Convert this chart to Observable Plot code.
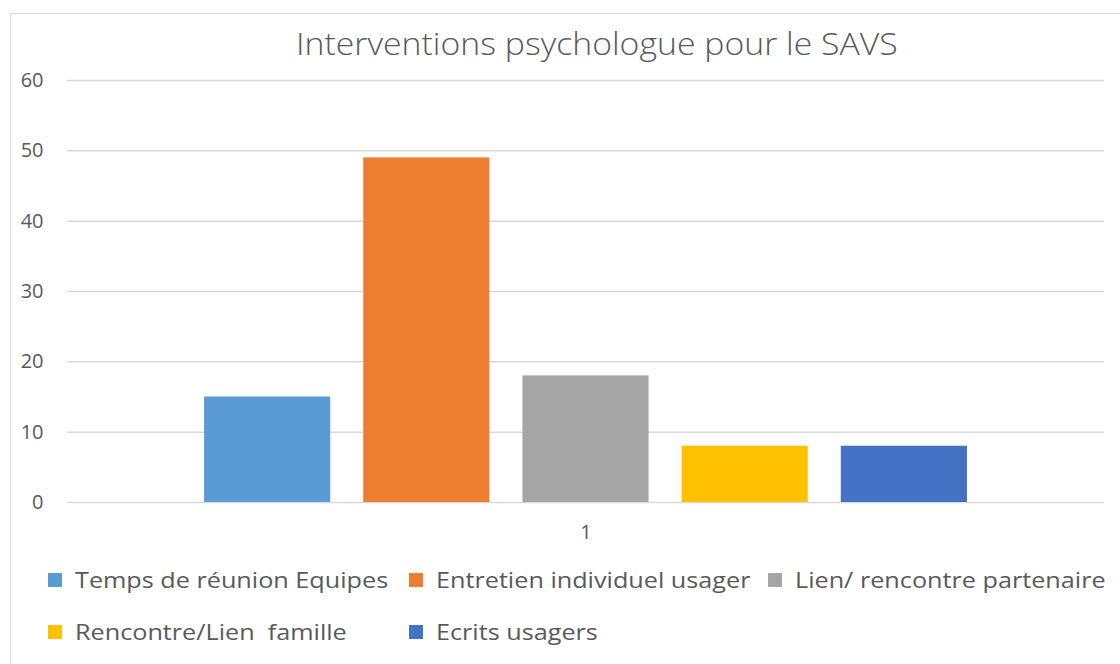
<!DOCTYPE html>
<html>
<head>
<meta charset="utf-8">
<script src="https://cdn.jsdelivr.net/npm/d3@7"></script>
<script src="https://cdn.jsdelivr.net/npm/@observablehq/plot@0.6"></script>
<style>
  html, body { margin: 0; padding: 0; background: #fff; }
  #wrap { position: relative; width: 1120px; height: 664px; overflow: hidden; font-family: "Open Sans", sans-serif; color: #595959; }
  #frame { position: absolute; left: 10px; top: 13px; width: 1130px; height: 700px; border: 1.5px solid #d9d9d9; box-sizing: border-box; }
  #title { position: absolute; left: 0; width: 1194px; top: 21px; text-align: center; font-size: 32px; font-weight: 300; line-height: 44px; }
  #title span { display: inline-block; transform: scaleX(1.056); transform-origin: center; white-space: nowrap; }
  #chart { position: absolute; left: 0; top: 70px; }
  #legend { position: absolute; left: 48px; top: 562px; display: grid; grid-template-columns: 361px 359px 360px; row-gap: 16px; font-size: 21px; line-height: 36px; }
  .item { display: flex; align-items: center; white-space: pre; }
  .sw { width: 14px; height: 14px; margin-right: 13px; flex: none; }
  .lt { display: inline-block; transform: scaleX(1.2); transform-origin: left center; }
</style>
</head>
<body>
<div id="wrap">
  <div id="frame"></div>
  <div id="title"><span></span></div>
  <div id="chart"></div>
  <div id="legend"></div>
</div>
<script>
const title = "Interventions psychologue pour le SAVS";
const groups = ["1"];
const series = ["Temps de réunion Equipes", "Entretien individuel usager", "Lien/ rencontre partenaire", "Rencontre/Lien  famille", "Ecrits usagers"];
const values = [15, 49, 18, 8, 8];
const colors = ["#5b9bd5", "#ed7d31", "#a5a5a5", "#ffc000", "#4472c4"];
const yTicks = [0, 10, 20, 30, 40, 50, 60];

const data = series.map((s, i) => ({group: groups[0], series: s, value: values[i]}));

document.querySelector("#title span").textContent = title;

const plot = Plot.plot({
  width: 1120,
  height: 480,
  marginLeft: 67,
  marginRight: 16,
  marginTop: 10,
  marginBottom: 48,
  style: {fontFamily: "Open Sans, sans-serif", color: "#595959", background: "transparent", overflow: "visible"},
  fx: {domain: groups, padding: 0, round: false, label: null},
  x: {domain: series, paddingInner: 0.2075, paddingOuter: 0.861, round: false, axis: null},
  y: {domain: [0, 60], ticks: yTicks, label: null},
  color: {domain: series, range: colors},
  marks: [
    Plot.ruleY(yTicks, {stroke: "#d9d9d9", strokeWidth: 1.5}),
    Plot.barY(data, {fx: "group", x: "series", y: "value", fill: "series"}),
    Plot.axisY({ticks: yTicks, tickSize: 0, tickPadding: 24, fontSize: 20, label: null}),
    Plot.axisFx({anchor: "bottom", tickSize: 0, tickPadding: 22, fontSize: 20, label: null})
  ]
});
document.getElementById("chart").appendChild(plot);

const legend = document.getElementById("legend");
series.forEach((s, i) => {
  const item = document.createElement("div");
  item.className = "item";
  const sw = document.createElement("span");
  sw.className = "sw";
  sw.style.background = colors[i];
  const t = document.createElement("span");
  t.className = "lt";
  t.textContent = s;
  item.appendChild(sw);
  item.appendChild(t);
  legend.appendChild(item);
});
</script>
</body>
</html>
